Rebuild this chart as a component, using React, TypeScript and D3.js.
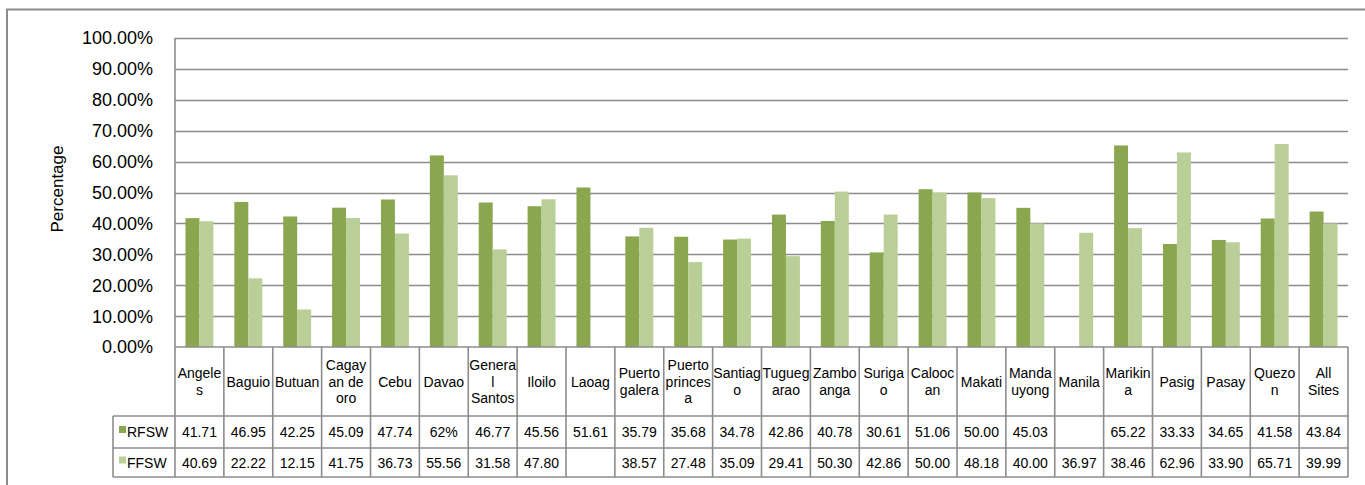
import React, { useEffect, useRef } from "react";
import { select, scaleBand, scaleLinear } from "d3";

// sites along the x axis, and how the table header wraps them
const sites = [
  "Angeles", "Baguio", "Butuan", "Cagayan de oro", "Cebu", "Davao",
  "General Santos", "Iloilo", "Laoag", "Puerto galera", "Puerto princesa",
  "Santiago", "Tuguegarao", "Zamboanga", "Surigao", "Caloocan", "Makati",
  "Mandaluyong", "Manila", "Marikina", "Pasig", "Pasay", "Quezon", "All Sites",
];
const siteLines = [
  ["Angele", "s"], ["Baguio"], ["Butuan"], ["Cagay", "an de", "oro"], ["Cebu"],
  ["Davao"], ["Genera", "l", "Santos"], ["Iloilo"], ["Laoag"], ["Puerto", "galera"],
  ["Puerto", "princes", "a"], ["Santiag", "o"], ["Tugueg", "arao"], ["Zambo", "anga"],
  ["Suriga", "o"], ["Calooc", "an"], ["Makati"], ["Manda", "uyong"], ["Manila"],
  ["Marikin", "a"], ["Pasig"], ["Pasay"], ["Quezo", "n"], ["All", "Sites"],
];

// table cells as printed (empty = no value)
const rfswCells = [
  "41.71", "46.95", "42.25", "45.09", "47.74", "62%", "46.77", "45.56", "51.61",
  "35.79", "35.68", "34.78", "42.86", "40.78", "30.61", "51.06", "50.00", "45.03",
  "", "65.22", "33.33", "34.65", "41.58", "43.84",
];
const ffswCells = [
  "40.69", "22.22", "12.15", "41.75", "36.73", "55.56", "31.58", "47.80", "",
  "38.57", "27.48", "35.09", "29.41", "50.30", "42.86", "50.00", "48.18", "40.00",
  "36.97", "38.46", "62.96", "33.90", "65.71", "39.99",
];

const seriesNames = ["RFSW", "FFSW"];
const seriesColors = ["#8aa64f", "#b9cf97"];
const yTicks = [0, 0.1, 0.2, 0.3, 0.4, 0.5, 0.6, 0.7, 0.8, 0.9, 1.0];

const W = 1365;
const H = 485;
const FONT = "'Liberation Sans', Arial, sans-serif";
const GRID = "#8c8c8c";

const App = () => {
  const svgRef = useRef(null);

  useEffect(() => {
    document.body.style.margin = "0";
    const svg = select(svgRef.current);
    svg.selectAll("*").remove();

    const left = 175;
    const right = 1348;
    const top = 38;
    const bottom = 347;
    const headBottom = 416;
    const rowBottoms = [448, 477];
    const labelLeft = 113;

    const x = scaleBand().domain(sites).range([left, right]);
    const xs = scaleBand()
      .domain(seriesNames)
      .range([0, x.bandwidth()])
      .paddingOuter(0.75);
    const y = scaleLinear().domain([0, 1]).range([bottom, top]);

    const toVal = (c: string) => (c === "" ? null : parseFloat(c) / 100);
    const cells = [rfswCells, ffswCells];
    const values = cells.map((col) => col.map(toVal));

    // outer chart border
    svg
      .append("rect")
      .attr("x", 7)
      .attr("y", 9.5)
      .attr("width", W + 20)
      .attr("height", H + 20)
      .attr("fill", "none")
      .attr("stroke", GRID)
      .attr("stroke-width", 2);

    // gridlines
    svg
      .append("g")
      .selectAll("line")
      .data(yTicks.filter((t) => t > 0))
      .enter()
      .append("line")
      .attr("x1", left)
      .attr("x2", right)
      .attr("y1", (d) => Math.round(y(d)) + 0.5)
      .attr("y2", (d) => Math.round(y(d)) + 0.5)
      .attr("stroke", GRID)
      .attr("stroke-width", 1.4);

    // tick labels
    svg
      .append("g")
      .selectAll("text")
      .data(yTicks)
      .enter()
      .append("text")
      .attr("x", 153)
      .attr("y", (d) => y(d))
      .attr("dy", "0.36em")
      .attr("text-anchor", "end")
      .attr("font-family", FONT)
      .attr("font-size", 18)
      .attr("fill", "#000")
      .text((d) => (d * 100).toFixed(2) + "%");

    svg
      .append("text")
      .attr("transform", `translate(63,189) rotate(-90)`)
      .attr("text-anchor", "middle")
      .attr("font-family", FONT)
      .attr("font-size", 17)
      .attr("fill", "#000")
      .text("Percentage");

    // bars
    seriesNames.forEach((s, si) => {
      svg
        .append("g")
        .selectAll("rect")
        .data(values[si].map((v, i) => ({ v, site: sites[i] })).filter((d) => d.v !== null))
        .enter()
        .append("rect")
        .attr("x", (d: any) => (x(d.site) as number) + (xs(s) as number))
        .attr("y", (d: any) => y(d.v))
        .attr("width", xs.bandwidth())
        .attr("height", (d: any) => bottom - y(d.v))
        .attr("fill", seriesColors[si]);
    });

    // data table lines
    const tbl = svg.append("g").attr("stroke", GRID).attr("stroke-width", 1.6);
    tbl
      .append("line")
      .attr("x1", left)
      .attr("x2", right)
      .attr("y1", bottom)
      .attr("y2", bottom);
    [headBottom, ...rowBottoms].forEach((yy) => {
      tbl
        .append("line")
        .attr("x1", labelLeft)
        .attr("x2", right)
        .attr("y1", yy)
        .attr("y2", yy);
    });
    tbl
      .append("line")
      .attr("x1", left)
      .attr("x2", left)
      .attr("y1", top)
      .attr("y2", rowBottoms[1]);
    tbl
      .append("line")
      .attr("x1", labelLeft)
      .attr("x2", labelLeft)
      .attr("y1", headBottom)
      .attr("y2", rowBottoms[1]);
    tbl
      .selectAll("line.col")
      .data(sites)
      .enter()
      .append("line")
      .attr("class", "col")
      .attr("x1", (d) => (x(d) as number) + x.bandwidth())
      .attr("x2", (d) => (x(d) as number) + x.bandwidth())
      .attr("y1", bottom)
      .attr("y2", rowBottoms[1]);

    // header labels
    const headMid = (bottom + headBottom) / 2;
    const lh = 16.5;
    sites.forEach((site, i) => {
      const lines = siteLines[i];
      const t = svg
        .append("text")
        .attr("text-anchor", "middle")
        .attr("font-family", FONT)
        .attr("font-size", 14)
        .attr("fill", "#000");
      lines.forEach((ln, li) => {
        t.append("tspan")
          .attr("x", (x(site) as number) + x.bandwidth() / 2)
          .attr("y", headMid + (li - (lines.length - 1) / 2) * lh)
          .attr("dy", "0.36em")
          .text(ln);
      });
    });

    // rows
    const rowTops = [headBottom, rowBottoms[0]];
    seriesNames.forEach((s, si) => {
      const mid = (rowTops[si] + rowBottoms[si]) / 2;
      svg
        .append("rect")
        .attr("x", 119)
        .attr("y", mid - 6)
        .attr("width", 7)
        .attr("height", 7)
        .attr("fill", seriesColors[si]);
      svg
        .append("text")
        .attr("x", 127)
        .attr("y", mid)
        .attr("dy", "0.36em")
        .attr("font-family", FONT)
        .attr("font-size", 14)
        .attr("fill", "#000")
        .text(s);
      svg
        .append("g")
        .selectAll("text")
        .data(cells[si])
        .enter()
        .append("text")
        .attr("x", (_d, i) => (x(sites[i]) as number) + x.bandwidth() / 2)
        .attr("y", mid)
        .attr("dy", "0.36em")
        .attr("text-anchor", "middle")
        .attr("font-family", FONT)
        .attr("font-size", 14)
        .attr("fill", "#000")
        .text((d) => d);
    });
  }, []);

  return (
    <svg
      ref={svgRef}
      width={W}
      height={H}
      style={{ display: "block", background: "#fff" }}
    ></svg>
  );
};

export default App;
